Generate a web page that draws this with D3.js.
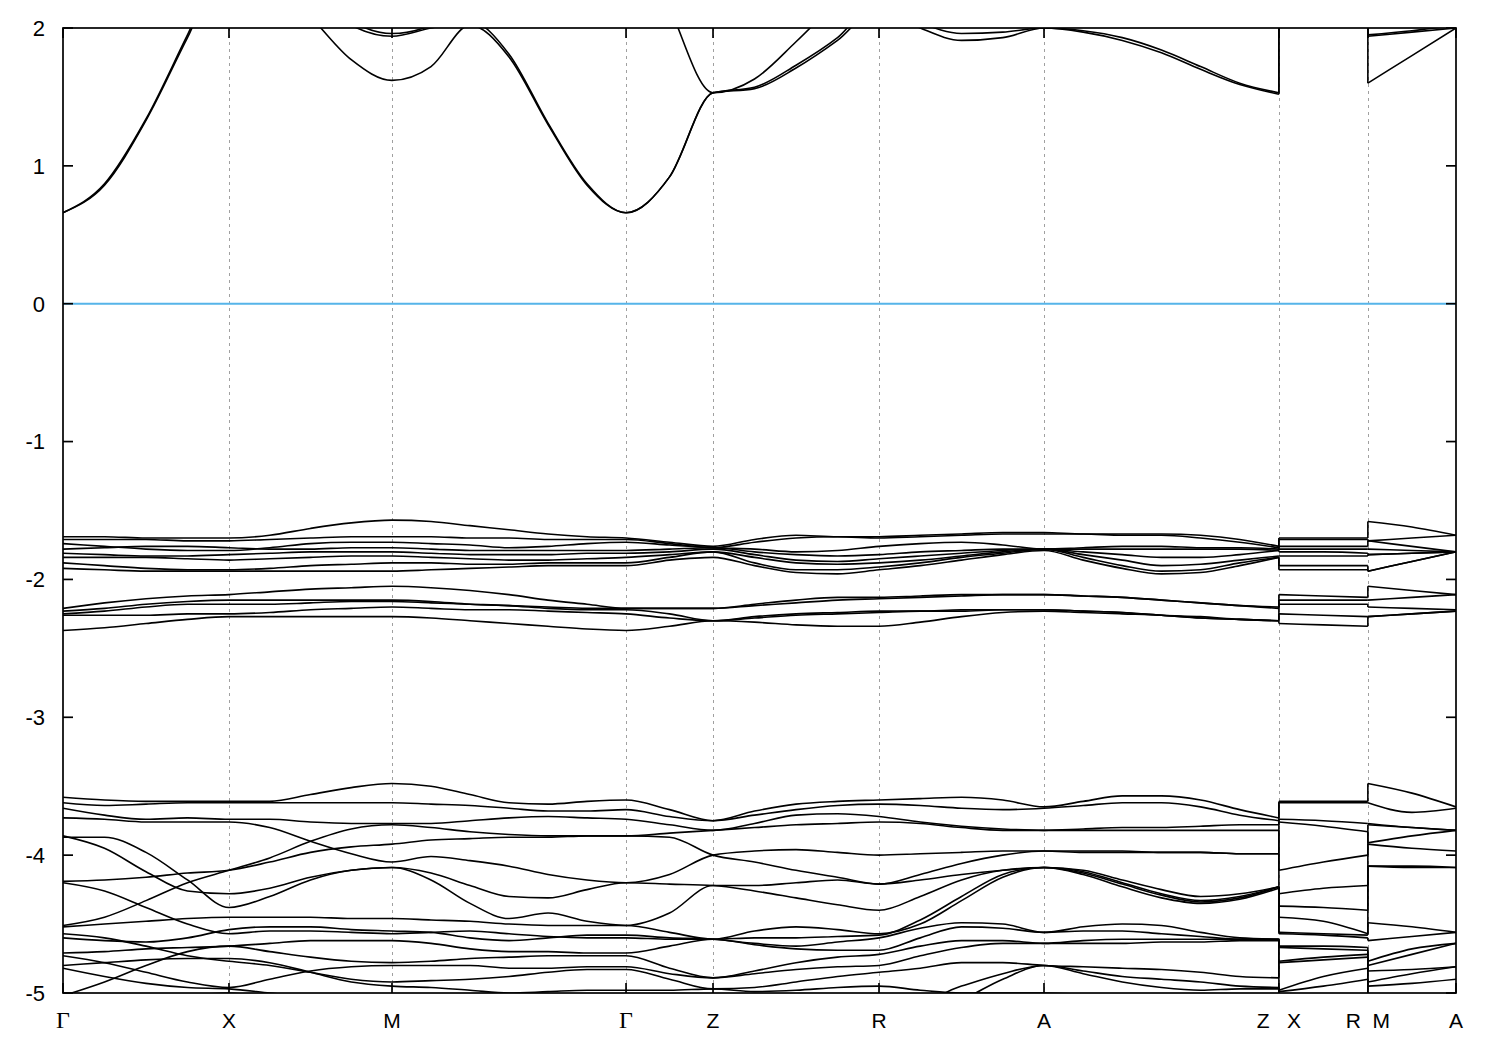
<!DOCTYPE html>
<html>
<head>
<meta charset="utf-8">
<script src="https://cdn.jsdelivr.net/npm/d3@7"></script>
<style>
  html, body { margin: 0; padding: 0; background: #fff; }
  svg { display: block; }
  text { font-family: "Liberation Sans", Arial, sans-serif; fill: #000; }
</style>
</head>
<body>
<svg id="chart" width="1500" height="1050"></svg>
<script>
// ---------------- DATA ----------------
// high-symmetry points (path length, units of Γ-X) and their labels
const kTicks = [0, 1.0, 1.982, 3.392, 3.916, 4.916, 5.910, 7.325, 7.861, 8.392];
const tickLabels = ["Γ", "X", "M", "Γ", "Z", "R", "A", "Z   X", "R  M", "A"];
// number of sampling steps in each continuous path piece (between ticks)
const pieceSteps = [[4, 4, 6, 2, 4, 4, 6], [2], [2]];
const yTicks = [2, 1, 0, -1, -2, -3, -4, -5];
const eFermi = 0;

// band energies (eV) at the 37 sampling points:
// Γ . . . X . . . M . . . . . Γ . Z . . . R . . . A . . . . . Z | X . R | M . A
const cb1 = [0.66,0.86,1.33,1.93,2.50, 2.35,2.08,1.77,1.62, 1.72,2.02,1.79,1.30,0.86,0.66, 0.92,1.53, 1.56,1.71,1.91,2.15, 2.00,1.91,1.93,2.00, 1.97,1.91,1.82,1.70,1.59,1.52, 2.40,2.30,2.20, 1.60,1.80,2.00];
const cb2 = [0.66,0.87,1.34,1.95,2.55, 2.45,2.25,2.02,1.94, 2.00,2.05,1.81,1.31,0.87,0.66, 0.92,1.53, 1.57,1.73,1.93,2.20, 2.04,1.96,1.97,2.00, 1.98,1.93,1.84,1.72,1.60,1.53, 2.40,2.30,2.20, 1.94,1.97,2.00];
const cb3 = [2.90,2.90,2.90,2.90,2.90, 2.90,2.90,2.90,2.90, 2.90,2.90,2.90,2.90,2.90,2.90, 2.15,1.53, 1.63,1.90,2.20,2.50, 2.60,2.60,2.60,2.60, 2.60,2.60,2.60,2.60,2.60,2.60, 2.60,2.60,2.60, 2.60,2.60,2.60];
const cb4 = [2.60,2.60,2.60,2.60,2.60, 2.50,2.30,2.05,1.96, 2.02,2.30,2.50,2.60,2.60,2.60, 2.60,2.60, 2.60,2.60,2.60,2.60, 2.60,2.60,2.60,2.60, 2.60,2.60,2.60,2.60,2.60,2.60, 2.60,2.60,2.60, 1.95,1.98,2.02];

const vA1 = [-1.69,-1.69,-1.70,-1.70,-1.70, -1.68,-1.63,-1.59,-1.57, -1.58,-1.61,-1.64,-1.67,-1.69,-1.70, -1.73,-1.76, -1.71,-1.68,-1.69,-1.69, -1.68,-1.67,-1.66,-1.66, -1.67,-1.67,-1.67,-1.68,-1.71,-1.76, -1.70,-1.70,-1.70, -1.58,-1.62,-1.68];
const vA2 = [-1.71,-1.71,-1.71,-1.72,-1.72, -1.71,-1.70,-1.69,-1.69, -1.69,-1.70,-1.70,-1.71,-1.71,-1.71, -1.74,-1.77, -1.73,-1.70,-1.69,-1.70, -1.69,-1.68,-1.67,-1.67, -1.67,-1.68,-1.68,-1.70,-1.73,-1.77, -1.71,-1.71,-1.71, -1.72,-1.70,-1.68];
const vA3 = [-1.74,-1.76,-1.78,-1.79,-1.79, -1.77,-1.74,-1.73,-1.73, -1.74,-1.75,-1.77,-1.76,-1.74,-1.73, -1.75,-1.77, -1.78,-1.80,-1.79,-1.76, -1.74,-1.73,-1.75,-1.78, -1.77,-1.76,-1.76,-1.77,-1.77,-1.78, -1.76,-1.76,-1.76, -1.72,-1.76,-1.80];
const vA4 = [-1.78,-1.77,-1.76,-1.76,-1.77, -1.78,-1.78,-1.77,-1.77, -1.78,-1.79,-1.79,-1.79,-1.79,-1.79, -1.78,-1.77, -1.80,-1.82,-1.83,-1.82, -1.80,-1.79,-1.78,-1.78, -1.78,-1.78,-1.78,-1.78,-1.78,-1.79, -1.78,-1.78,-1.78, -1.78,-1.79,-1.80];
const vA5 = [-1.81,-1.82,-1.83,-1.83,-1.82, -1.81,-1.80,-1.80,-1.80, -1.81,-1.82,-1.82,-1.82,-1.81,-1.81, -1.80,-1.78, -1.82,-1.86,-1.87,-1.85, -1.83,-1.81,-1.79,-1.78, -1.80,-1.82,-1.84,-1.84,-1.82,-1.79, -1.80,-1.80,-1.81, -1.82,-1.81,-1.80];
const vA6 = [-1.84,-1.84,-1.84,-1.85,-1.86, -1.85,-1.84,-1.83,-1.83, -1.84,-1.85,-1.86,-1.86,-1.85,-1.84, -1.82,-1.80, -1.84,-1.88,-1.89,-1.88, -1.86,-1.83,-1.80,-1.78, -1.82,-1.86,-1.90,-1.89,-1.86,-1.83, -1.83,-1.83,-1.83, -1.82,-1.81,-1.80];
const vA7 = [-1.88,-1.90,-1.92,-1.93,-1.93, -1.92,-1.90,-1.89,-1.88, -1.88,-1.89,-1.89,-1.88,-1.88,-1.88, -1.84,-1.80, -1.88,-1.93,-1.93,-1.91, -1.88,-1.84,-1.81,-1.78, -1.84,-1.90,-1.94,-1.93,-1.88,-1.84, -1.90,-1.90,-1.90, -1.94,-1.87,-1.80];
const vA8 = [-1.92,-1.93,-1.94,-1.94,-1.94, -1.94,-1.94,-1.94,-1.94, -1.93,-1.92,-1.91,-1.90,-1.90,-1.90, -1.86,-1.84, -1.90,-1.95,-1.96,-1.93, -1.90,-1.86,-1.82,-1.79, -1.86,-1.92,-1.96,-1.95,-1.90,-1.84, -1.93,-1.93,-1.93, -1.94,-1.87,-1.80];

const vB1 = [-2.21,-2.17,-2.14,-2.12,-2.11, -2.09,-2.07,-2.06,-2.05, -2.06,-2.08,-2.11,-2.15,-2.18,-2.21, -2.21,-2.21, -2.18,-2.15,-2.13,-2.13, -2.12,-2.11,-2.11,-2.11, -2.12,-2.13,-2.15,-2.17,-2.19,-2.20, -2.11,-2.12,-2.13, -2.05,-2.08,-2.11];
const vB2 = [-2.23,-2.21,-2.18,-2.16,-2.15, -2.15,-2.15,-2.15,-2.15, -2.16,-2.18,-2.19,-2.20,-2.21,-2.21, -2.21,-2.21, -2.19,-2.17,-2.15,-2.14, -2.13,-2.12,-2.11,-2.11, -2.12,-2.13,-2.15,-2.17,-2.19,-2.21, -2.15,-2.15,-2.15, -2.15,-2.13,-2.11];
const vB3 = [-2.25,-2.23,-2.20,-2.18,-2.18, -2.18,-2.17,-2.16,-2.16, -2.17,-2.18,-2.19,-2.21,-2.22,-2.22, -2.25,-2.30, -2.27,-2.25,-2.24,-2.23, -2.23,-2.22,-2.22,-2.22, -2.23,-2.24,-2.26,-2.27,-2.29,-2.30, -2.18,-2.18,-2.18, -2.20,-2.21,-2.22];
const vB4 = [-2.26,-2.26,-2.26,-2.25,-2.25, -2.24,-2.22,-2.21,-2.20, -2.21,-2.22,-2.22,-2.23,-2.24,-2.25, -2.28,-2.30, -2.28,-2.26,-2.25,-2.24, -2.23,-2.23,-2.22,-2.22, -2.23,-2.24,-2.26,-2.28,-2.29,-2.30, -2.25,-2.26,-2.27, -2.27,-2.25,-2.23];
const vB5 = [-2.37,-2.35,-2.32,-2.29,-2.27, -2.27,-2.27,-2.27,-2.27, -2.28,-2.30,-2.32,-2.34,-2.36,-2.37, -2.34,-2.30, -2.31,-2.33,-2.34,-2.34, -2.31,-2.27,-2.24,-2.23, -2.24,-2.25,-2.26,-2.28,-2.29,-2.30, -2.32,-2.33,-2.34, -2.27,-2.25,-2.23];

const vC1 = [-3.58,-3.60,-3.61,-3.61,-3.61, -3.61,-3.56,-3.51,-3.48, -3.50,-3.56,-3.62,-3.63,-3.61,-3.60, -3.67,-3.75, -3.68,-3.63,-3.61,-3.60, -3.59,-3.58,-3.60,-3.65, -3.61,-3.57,-3.57,-3.60,-3.67,-3.73, -3.61,-3.61,-3.61, -3.48,-3.55,-3.65];
const vC2 = [-3.62,-3.64,-3.63,-3.62,-3.62, -3.62,-3.62,-3.62,-3.62, -3.63,-3.64,-3.66,-3.68,-3.68,-3.67, -3.72,-3.75, -3.71,-3.67,-3.64,-3.63, -3.64,-3.66,-3.67,-3.66, -3.64,-3.62,-3.62,-3.65,-3.71,-3.75, -3.62,-3.62,-3.62, -3.62,-3.69,-3.66];
const vC3 = [-3.66,-3.71,-3.74,-3.73,-3.74, -3.74,-3.76,-3.77,-3.77, -3.77,-3.75,-3.73,-3.72,-3.73,-3.74, -3.78,-3.82, -3.77,-3.71,-3.70,-3.72, -3.76,-3.79,-3.81,-3.82, -3.81,-3.80,-3.80,-3.79,-3.78,-3.78, -3.74,-3.75,-3.77, -3.77,-3.80,-3.82];
const vC4 = [-3.73,-3.74,-3.76,-3.76,-3.76, -3.80,-3.90,-3.99,-4.05, -4.01,-4.04,-4.08,-4.14,-4.18,-4.20, -4.14,-4.00, -3.97,-3.96,-3.98,-4.00, -3.99,-3.98,-3.97,-3.97, -3.98,-3.98,-3.98,-3.98,-3.99,-3.99, -3.76,-3.79,-3.83, -3.91,-3.86,-3.82];
const vC5 = [-3.86,-3.95,-4.12,-4.26,-4.28, -4.24,-4.16,-4.11,-4.09, -4.13,-4.22,-4.30,-4.31,-4.25,-4.20, -4.21,-4.22, -4.26,-4.31,-4.36,-4.40, -4.30,-4.18,-4.11,-4.09, -4.12,-4.20,-4.28,-4.33,-4.30,-4.23, -4.28,-4.24,-4.22, -4.08,-4.08,-4.09];
const vC6 = [-3.87,-3.87,-3.98,-4.18,-4.38, -4.30,-4.18,-4.11,-4.09, -4.18,-4.35,-4.46,-4.42,-4.48,-4.51, -4.42,-4.22, -4.22,-4.20,-4.18,-4.21, -4.18,-4.14,-4.11,-4.09, -4.14,-4.23,-4.31,-4.35,-4.32,-4.24, -4.37,-4.38,-4.40, -4.08,-4.09,-4.09];
const vC7 = [-4.19,-4.18,-4.16,-4.13,-4.11, -4.05,-3.98,-3.94,-3.92, -3.89,-3.88,-3.87,-3.87,-3.86,-3.86, -3.87,-4.00, -4.05,-4.11,-4.16,-4.21, -4.14,-4.06,-4.00,-3.97, -3.97,-3.97,-3.98,-3.98,-3.99,-3.99, -4.11,-4.05,-4.00, -3.92,-3.95,-3.97];
const vC8 = [-4.51,-4.45,-4.33,-4.20,-4.11, -4.02,-3.90,-3.81,-3.78, -3.80,-3.83,-3.85,-3.86,-3.86,-3.86, -3.84,-3.82, -3.80,-3.78,-3.77,-3.76, -3.77,-3.80,-3.82,-3.82, -3.82,-3.82,-3.82,-3.82,-3.82,-3.82, -4.45,-4.48,-4.57, -3.78,-3.80,-3.82];
const vC9 = [-4.20,-4.26,-4.38,-4.50,-4.57, -4.55,-4.55,-4.56,-4.57, -4.56,-4.55,-4.57,-4.59,-4.60,-4.60, -4.61,-4.61, -4.60,-4.60,-4.59,-4.58, -4.47,-4.30,-4.14,-4.09, -4.13,-4.21,-4.29,-4.34,-4.31,-4.23, -4.56,-4.57,-4.58, -4.49,-4.52,-4.56];
const vC10 = [-4.52,-4.50,-4.48,-4.46,-4.45, -4.45,-4.45,-4.46,-4.46, -4.47,-4.48,-4.50,-4.51,-4.51,-4.51, -4.56,-4.61, -4.55,-4.52,-4.54,-4.57, -4.50,-4.33,-4.16,-4.09, -4.11,-4.18,-4.25,-4.30,-4.28,-4.23, -4.57,-4.58,-4.60, -4.62,-4.59,-4.56];
const vC11 = [-4.57,-4.60,-4.66,-4.73,-4.77, -4.80,-4.85,-4.90,-4.92, -4.91,-4.90,-4.88,-4.85,-4.83,-4.83, -4.90,-4.97, -4.96,-4.92,-4.88,-4.85, -4.82,-4.78,-4.78,-4.80, -4.81,-4.82,-4.83,-4.85,-4.88,-4.89, -4.77,-4.74,-4.72, -4.84,-4.83,-4.81];
const vC12 = [-4.60,-4.62,-4.63,-4.60,-4.54, -4.52,-4.52,-4.54,-4.55, -4.56,-4.60,-4.62,-4.60,-4.58,-4.58, -4.60,-4.61, -4.64,-4.66,-4.63,-4.60, -4.53,-4.49,-4.50,-4.56, -4.52,-4.50,-4.51,-4.56,-4.60,-4.61, -4.66,-4.66,-4.67, -4.77,-4.68,-4.64];
const vC13 = [-4.71,-4.70,-4.68,-4.67,-4.66, -4.64,-4.62,-4.62,-4.62, -4.64,-4.68,-4.70,-4.70,-4.71,-4.71, -4.66,-4.61, -4.65,-4.68,-4.69,-4.69, -4.60,-4.52,-4.53,-4.56, -4.55,-4.55,-4.57,-4.59,-4.61,-4.61, -4.67,-4.68,-4.69, -4.80,-4.72,-4.64];
const vC14 = [-4.73,-4.78,-4.85,-4.92,-4.96, -4.90,-4.84,-4.81,-4.80, -4.80,-4.80,-4.82,-4.82,-4.81,-4.81, -4.86,-4.89, -4.84,-4.78,-4.74,-4.72, -4.66,-4.62,-4.62,-4.64, -4.62,-4.61,-4.61,-4.61,-4.61,-4.61, -4.78,-4.76,-4.74, -4.92,-4.86,-4.81];
const vC15 = [-4.80,-4.78,-4.76,-4.75,-4.75, -4.78,-4.85,-4.92,-4.95, -4.96,-4.98,-5.00,-4.99,-4.98,-4.98, -4.98,-4.97, -4.99,-4.98,-4.96,-4.95, -4.98,-5.00,-5.00,-5.00, -5.01,-5.02,-5.03,-5.04,-5.05,-5.05, -4.98,-4.88,-4.82, -4.95,-4.93,-4.90];
const vC16 = [-4.82,-4.88,-4.93,-4.96,-4.97, -5.00,-5.03,-5.05,-5.05, -5.06,-5.06,-5.06,-5.06,-5.05,-5.05, -5.05,-5.05, -5.06,-5.06,-5.06,-5.05, -5.05,-4.95,-4.86,-4.80, -4.84,-4.88,-4.90,-4.92,-4.95,-4.96, -4.99,-4.95,-4.90, -5.05,-5.05,-5.05];
const vC17 = [-5.02,-4.92,-4.80,-4.70,-4.66, -4.70,-4.74,-4.77,-4.78, -4.77,-4.75,-4.74,-4.73,-4.73,-4.73, -4.82,-4.89, -4.86,-4.83,-4.81,-4.80, -4.73,-4.67,-4.64,-4.64, -4.64,-4.64,-4.63,-4.63,-4.62,-4.62, -5.05,-5.05,-5.05, -5.10,-5.10,-5.10];
const vC18 = [-5.15,-5.10,-5.05,-5.02,-5.00, -5.04,-5.08,-5.10,-5.10, -5.10,-5.10,-5.10,-5.10,-5.10,-5.10, -5.10,-5.10, -5.10,-5.10,-5.10,-5.10, -5.15,-5.05,-4.90,-4.80, -4.86,-4.92,-4.96,-4.98,-4.97,-4.97, -5.10,-5.10,-5.10, -5.10,-5.10,-5.10];

const bands = [cb1, cb2, cb3, cb4,
  vA1, vA2, vA3, vA4, vA5, vA6, vA7, vA8,
  vB1, vB2, vB3, vB4, vB5,
  vC1, vC2, vC3, vC4, vC5, vC6, vC7, vC8, vC9, vC10, vC11, vC12, vC13, vC14, vC15, vC16, vC17, vC18];

// ---------------- CHART ----------------
const margin = {left: 63, right: 44, top: 28, bottom: 57};
const W = 1500, H = 1050;
const x0 = margin.left, x1 = W - margin.right, y0 = margin.top, y1 = H - margin.bottom;

const x = d3.scaleLinear().domain([kTicks[0], kTicks[kTicks.length - 1]]).range([x0, x1]);
const y = d3.scaleLinear().domain([-5, 2]).range([y1, y0]);

// sampling k-grid: three continuous pieces (Γ…Z, X…R, M…A)
const pieceStartTick = [0, 7, 8];
const pieces = pieceSteps.map((steps, p) => {
  const ks = [];
  const t = pieceStartTick[p];
  steps.forEach((n, j) => {
    const a = kTicks[t + j], b = kTicks[t + j + 1];
    d3.range(n).forEach(i => ks.push(a + (b - a) * i / n));
  });
  ks.push(kTicks[t + steps.length]);
  return ks;
});
const pieceOffset = [0, pieces[0].length, pieces[0].length + pieces[1].length];

const svg = d3.select("#chart");

svg.append("defs").append("clipPath").attr("id", "plotClip")
  .append("rect").attr("x", x0).attr("y", y0).attr("width", x1 - x0).attr("height", y1 - y0);

// vertical dashed grid lines at interior high-symmetry points
svg.append("g").selectAll("line")
  .data(kTicks.slice(1, -1))
  .join("line")
  .attr("x1", d => Math.round(x(d)) + 0.5).attr("x2", d => Math.round(x(d)) + 0.5)
  .attr("y1", y0).attr("y2", y1)
  .attr("stroke", "#a0a0a0").attr("stroke-width", 1)
  .attr("stroke-dasharray", "3,4");

// Fermi level
svg.append("line")
  .attr("x1", x0).attr("x2", x1)
  .attr("y1", y(eFermi)).attr("y2", y(eFermi))
  .attr("stroke", "#56b4e9").attr("stroke-width", 2);

// bands
const line = d3.line().x(d => x(d[0])).y(d => y(d[1])).curve(d3.curveMonotoneX);
const gBands = svg.append("g").attr("clip-path", "url(#plotClip)")
  .attr("fill", "none").attr("stroke", "#000").attr("stroke-width", 1.6)
  .attr("stroke-linejoin", "round");

bands.forEach(band => {
  pieces.forEach((ks, p) => {
    const pts = ks.map((k, i) => [k, band[pieceOffset[p] + i]]);
    gBands.append("path").attr("d", line(pts));
  });
  // connecting jumps at the path discontinuities
  [1, 2].forEach(p => {
    const kb = pieces[p][0];
    const ePrev = band[pieceOffset[p] - 1], eNext = band[pieceOffset[p]];
    gBands.append("line")
      .attr("x1", x(kb)).attr("x2", x(kb))
      .attr("y1", y(ePrev)).attr("y2", y(eNext));
  });
});

// frame
svg.append("rect").attr("x", x0).attr("y", y0).attr("width", x1 - x0).attr("height", y1 - y0)
  .attr("fill", "none").attr("stroke", "#000").attr("stroke-width", 1.7);

// y ticks (both sides, inward) and labels
const gy = svg.append("g");
yTicks.forEach(t => {
  gy.append("line").attr("x1", x0).attr("x2", x0 + 10).attr("y1", y(t)).attr("y2", y(t))
    .attr("stroke", "#000").attr("stroke-width", 1.7);
  gy.append("line").attr("x1", x1 - 10).attr("x2", x1).attr("y1", y(t)).attr("y2", y(t))
    .attr("stroke", "#000").attr("stroke-width", 1.7);
  gy.append("text").attr("x", x0 - 18).attr("y", y(t)).attr("dy", "0.36em")
    .attr("text-anchor", "end").attr("font-size", 22).text(String(t));
});

// x ticks (top and bottom, inward) and labels
const gx = svg.append("g");
kTicks.forEach((k, i) => {
  const xx = x(k);
  gx.append("line").attr("x1", xx).attr("x2", xx).attr("y1", y1).attr("y2", y1 - 10)
    .attr("stroke", "#000").attr("stroke-width", 1.7);
  gx.append("line").attr("x1", xx).attr("x2", xx).attr("y1", y0).attr("y2", y0 + 10)
    .attr("stroke", "#000").attr("stroke-width", 1.7);
  const lbl = tickLabels[i];
  gx.append("text").attr("x", xx).attr("y", 1028)
    .attr("text-anchor", "middle")
    .attr("font-size", lbl === "Γ" ? 24 : 21)
    .style("font-family", lbl === "Γ" ? "'Liberation Serif', 'DejaVu Serif', serif" : null)
    .style("white-space", "pre")
    .text(lbl);
});
</script>
</body>
</html>
